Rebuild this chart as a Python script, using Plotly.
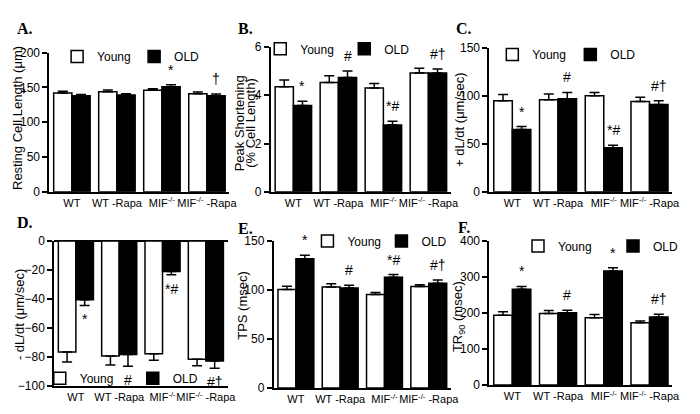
import plotly.graph_objects as go

# ---------------- data ----------------
categories = ["WT", "WT -Rapa", "MIF<sup>-/-</sup>", "MIF<sup>-/-</sup> -Rapa"]
series_names = ["Young", "OLD"]

# A. Resting cell length (um)
a_young = [142, 144, 146, 141]
a_young_sem = [2.5, 2.5, 2.0, 2.5]
a_old = [138, 139, 151, 138]
a_old_sem = [2.0, 2.0, 3.0, 2.5]
a_marks = ["", "", "*", "†"]

# B. Peak shortening (% cell length)
b_young = [4.35, 4.53, 4.30, 4.92]
b_young_sem = [0.28, 0.27, 0.18, 0.20]
b_old = [3.57, 4.73, 2.77, 4.92]
b_old_sem = [0.18, 0.27, 0.15, 0.16]
b_marks = ["*", "#", "*#", "#†"]

# C. +dL/dt (um/sec)
c_young = [95, 96, 100, 94]
c_young_sem = [6.5, 6.0, 3.5, 4.5]
c_old = [65, 97, 46, 91]
c_old_sem = [3.0, 6.5, 2.5, 4.0]
c_marks = ["*", "#", "*#", "#†"]

# D. -dL/dt (um/sec)
d_young = [-76.5, -79.3, -77.8, -81.6]
d_young_sem = [7.0, 6.2, 4.5, 4.5]
d_old = [-40.4, -78.3, -21.0, -82.8]
d_old_sem = [4.0, 8.0, 2.2, 5.0]
d_marks = ["*", "#", "*#", "#†"]

# E. TPS (msec)
e_young = [100.5, 103, 95.5, 103.5]
e_young_sem = [3.5, 3.5, 2.0, 2.0]
e_old = [132, 102, 113, 107]
e_old_sem = [3.5, 3.0, 2.8, 3.2]
e_marks = ["*", "#", "*#", "#†"]

# F. TR90 (msec)
f_young = [194, 199, 187, 173]
f_young_sem = [10, 8, 9, 5]
f_old = [266, 201, 317, 189]
f_old_sem = [8, 7, 9, 8]
f_marks = ["*", "#", "*", "#†"]

panel_letters = ["A.", "B.", "C.", "D.", "E.", "F."]
y_titles = [
    "Resting Cell Length (μm)",
    "Peak Shortening<br>(% Cell Length)",
    "+ dL/dt (μm/sec)",
    "- dL/dt (μm/sec)",
    "TPS (msec)",
    "TR<sub>90</sub> (msec)",
]
y_ranges = [[0, 200], [0, 6], [0, 150], [-100, 0], [0, 150], [0, 400]]
y_ticks = [
    [0, 50, 100, 150, 200],
    [0, 2, 4, 6],
    [0, 50, 100, 150],
    [0, -20, -40, -60, -80, -100],
    [0, 50, 100, 150],
    [0, 100, 200, 300, 400],
]

panels = [
    (a_young, a_young_sem, a_old, a_old_sem, a_marks),
    (b_young, b_young_sem, b_old, b_old_sem, b_marks),
    (c_young, c_young_sem, c_old, c_old_sem, c_marks),
    (d_young, d_young_sem, d_old, d_old_sem, d_marks),
    (e_young, e_young_sem, e_old, e_old_sem, e_marks),
    (f_young, f_young_sem, f_old, f_old_sem, f_marks),
]

# ---------------- layout geometry (pixels) ----------------
W, H = 700, 414
# (x0, x1, ytop, ybottom) in pixels
boxes = [
    (43, 230, 39, 183),
    (273, 460, 33, 183),
    (500, 690, 34, 183),
    (48, 228, 234, 384),
    (276, 460, 234, 386),
    (500, 690, 234, 383),
]
label_pos = [(7, 14), (237, 14), (463, 14), (7, 215), (237, 221), (465, 220)]
title_pos = [(10, 107), (246, 112), (469, 108), (12, 310), (244, 300), (468, 312)]
TITLE_LINE_GAP = 12
# legend: (x of first item start, y center, entrywidth)
legend_pos = [(51, 43, 32), (262, 35, 39), (503, 41, 33), (33, 376, 48), (311, 234, 29), (530, 239, 50)]

BARGAP = 0.19
OFF = (1 - BARGAP) / 4
FONT = "Arial, Liberation Sans, sans-serif"
NARROW = "Liberation Sans Narrow, Arial Narrow, Arial, sans-serif"
MARKFONT = "Liberation Sans, Arial, sans-serif"

fig = go.Figure()
layout = dict(
    width=W, height=H, margin=dict(l=0, r=0, t=0, b=0),
    paper_bgcolor="white", plot_bgcolor="white",
    barmode="group", bargap=BARGAP, bargroupgap=0,
    font=dict(family=FONT, size=12, color="black"),
)
annotations = []

for i, (yv, ys, ov, osem, marks) in enumerate(panels):
    n = i + 1
    xa = "x" if n == 1 else f"x{n}"
    ya = "y" if n == 1 else f"y{n}"
    lg = "legend" if n == 1 else f"legend{n}"
    neg = y_ranges[i][1] <= 0
    zeros = [0] * len(yv)
    for name, vals, sem, fill in [(series_names[0], yv, ys, "white"), (series_names[1], ov, osem, "black")]:
        fig.add_trace(go.Bar(
            x=categories, y=vals, name=name, xaxis=xa, yaxis=ya, legend=lg,
            marker=dict(color=fill, line=dict(color="black", width=1.5)),
            error_y=dict(type="data", symmetric=False,
                         array=zeros if neg else sem,
                         arrayminus=sem if neg else zeros,
                         color="black", thickness=1.5, width=5),
            hoverinfo="skip",
        ))
    x0, x1, yt, yb = boxes[i]
    layout["xaxis" if n == 1 else f"xaxis{n}"] = dict(
        domain=[x0 / W, x1 / W], anchor=ya, type="category",
        range=[-0.5, 3.5], showline=True, linecolor="black", linewidth=2,
        ticks="", ticklabelstandoff=0, tickangle=0, showgrid=False, zeroline=False,
        tickfont=dict(size=11, family=NARROW, color="black"),
    )
    layout["yaxis" if n == 1 else f"yaxis{n}"] = dict(
        domain=[1 - yb / H, 1 - yt / H], anchor=xa, range=y_ranges[i],
        tickvals=y_ticks[i], showline=True, linecolor="black", linewidth=2,
        ticks="outside", ticklen=5, tickwidth=2, tickcolor="black",
        showgrid=False, zeroline=neg, zerolinecolor="black", zerolinewidth=2,
        tickfont=dict(size=12, family=NARROW, color="black"),
    )
    lx, ly, ew = legend_pos[i]
    layout[lg] = dict(
        orientation="h", x=lx / W, y=1 - ly / H, xanchor="left", yanchor="middle",
        xref="paper", yref="paper", bgcolor="rgba(0,0,0,0)",
        font=dict(size=12, family=FONT, color="black"),
        entrywidth=ew, entrywidthmode="pixels", itemclick=False,
    )
    # significance marks on OLD bars
    for j, m in enumerate(marks):
        if not m:
            continue
        if neg:
            yy = ov[j] - osem[j]
            annotations.append(dict(x=j + OFF, y=yy, xref=xa, yref=ya, text=m,
                                    showarrow=False, yanchor="top", yshift=-4,
                                    font=dict(size=14, family=MARKFONT, color="black")))
        else:
            yy = ov[j] + osem[j]
            annotations.append(dict(x=j + OFF, y=yy, xref=xa, yref=ya, text=m,
                                    showarrow=False, yanchor="bottom", yshift=5,
                                    font=dict(size=14, family=MARKFONT, color="black")))
    # panel letter
    px, py = label_pos[i]
    annotations.append(dict(x=px / W, y=1 - py / H, xref="paper", yref="paper",
                            text=f"<b>{panel_letters[i]}</b>", showarrow=False,
                            xanchor="left", yanchor="middle",
                            font=dict(size=16, family="Liberation Serif, Times New Roman, serif", color="black")))
    # y title (multi-line titles set with tighter line spacing)
    tx, ty = title_pos[i]
    lines = y_titles[i].split("<br>")
    nl = len(lines)
    for k, line in enumerate(lines):
        lxp = tx + (k - (nl - 1) / 2) * TITLE_LINE_GAP
        annotations.append(dict(x=lxp / W, y=1 - ty / H, xref="paper", yref="paper",
                                text=line, showarrow=False, textangle=-90,
                                xanchor="center", yanchor="middle",
                                font=dict(size=13, family=FONT, color="black")))

layout["annotations"] = annotations
fig.update_layout(**layout)
fig.write_html("out.html")
